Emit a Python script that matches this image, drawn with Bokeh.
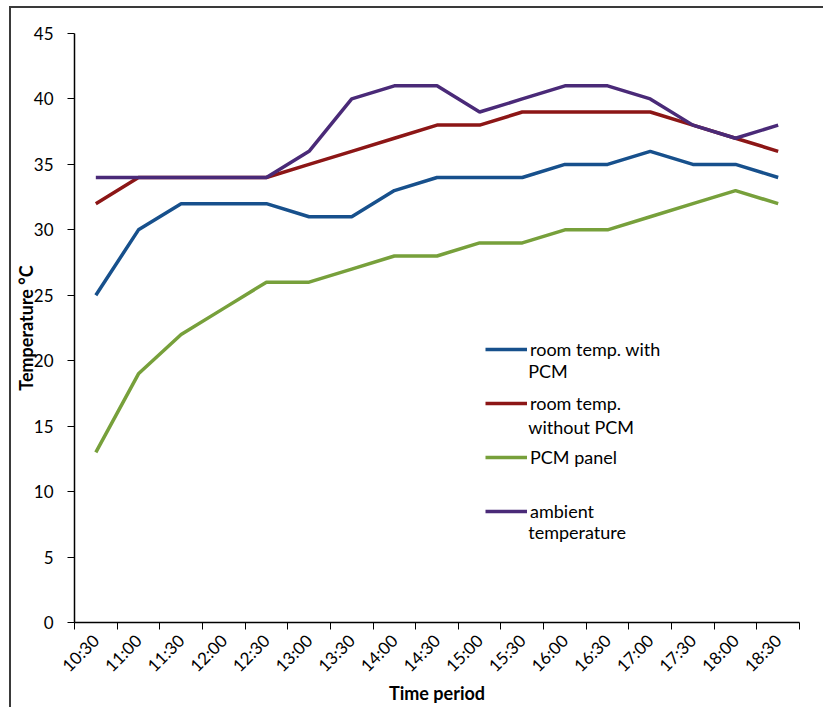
import math
from bokeh.plotting import figure
from bokeh.models import FixedTicker, Legend, LegendItem, Label
from bokeh.embed import file_html
from bokeh.resources import INLINE

# Half-hourly readings
times = ["10:30", "11:00", "11:30", "12:00", "12:30", "13:00", "13:30", "14:00", "14:30",
         "15:00", "15:30", "16:00", "16:30", "17:00", "17:30", "18:00", "18:30"]
room_with_pcm = [25, 30, 32, 32, 32, 31, 31, 33, 34, 34, 34, 35, 35, 36, 35, 35, 34]
room_without_pcm = [32, 34, 34, 34, 34, 35, 36, 37, 38, 38, 39, 39, 39, 39, 38, 37, 36]
pcm_panel = [13, 19, 22, 24, 26, 26, 27, 28, 28, 29, 29, 30, 30, 31, 32, 33, 32]
ambient = [34, 34, 34, 34, 34, 36, 40, 41, 41, 39, 40, 41, 41, 40, 38, 37, 38]

y_ticks = list(range(0, 46, 5))

FONT = "Lato"
n = len(times)
xs = [i + 0.5 for i in range(n)]  # category centres

p = figure(width=814, height=701, x_range=(0, n), y_range=(0, 45),
           output_backend="svg", toolbar_location=None,
           min_border_left=63, min_border_right=26, min_border_top=25, min_border_bottom=87)
p.styles = {"margin-left": "9px", "margin-top": "6px",
            "border-left": "2px solid #3a3a3a", "border-top": "2px solid #3a3a3a"}
p.outline_line_color = None
p.xgrid.visible = False
p.ygrid.visible = False
p.background_fill_color = "white"
p.border_fill_color = "white"

# (values, colour, first legend line, continuation line)
series = [
    (room_with_pcm, "#17508c", "room temp. with", "PCM"),
    (room_without_pcm, "#8c1616", "room temp.", "without PCM"),
    (pcm_panel, "#77a03b", "PCM panel", ""),
    (ambient, "#4a2a78", "ambient", "temperature"),
]
items = []
for vals, color, name, _ in series:
    r = p.line(xs, vals, line_color=color, line_width=3.5)
    items.append(LegendItem(label=name, renderers=[r]))

# x axis: labels at category centres, tick marks at category boundaries
xax = p.xaxis[0]
xax.ticker = FixedTicker(ticks=xs, minor_ticks=list(range(n + 1)))
xax.major_label_overrides = {x: t for x, t in zip(xs, times)}
xax.major_label_orientation = math.pi / 4
xax.major_tick_out = 0
xax.major_tick_in = 0
xax.minor_tick_out = 7
xax.minor_tick_in = 0
xax.minor_tick_line_color = "black"
xax.axis_line_color = "black"
xax.axis_line_width = 1.5
xax.major_label_text_font = FONT
xax.major_label_text_font_size = "17px"
xax.major_label_text_color = "black"
xax.major_label_standoff = 8
xax.axis_label = "Time period"
xax.axis_label_text_font = FONT
xax.axis_label_text_font_style = "bold"
xax.axis_label_text_font_size = "18px"
xax.axis_label_text_color = "black"
xax.axis_label_standoff = -4

yax = p.yaxis[0]
yax.ticker = FixedTicker(ticks=y_ticks)
yax.minor_tick_line_color = None
yax.major_tick_out = 7
yax.major_tick_in = 0
yax.axis_line_color = "black"
yax.axis_line_width = 1.5
yax.major_label_text_font = FONT
yax.major_label_text_font_size = "17px"
yax.major_label_text_color = "black"
yax.major_label_standoff = 14
yax.axis_label = "Temperature °C"
yax.axis_label_text_font = FONT
yax.axis_label_text_font_style = "bold"
yax.axis_label_text_font_size = "18px"
yax.axis_label_text_color = "black"
yax.axis_label_standoff = -6

legend = Legend(items=items, location=(411, 100), padding=0, margin=0,
                border_line_color=None, background_fill_alpha=0,
                glyph_width=42, glyph_height=22, label_height=22, label_standoff=3, spacing=32,
                label_text_font=FONT, label_text_font_size="18px", label_text_color="black")
p.add_layout(legend, "center")

# second lines of the wrapped legend entries
legend_text_x = 10.64
line_y = [19.18, 14.97, None, 6.88]
for (_, _, _, cont), ly in zip(series, line_y):
    if cont:
        p.add_layout(Label(x=legend_text_x, y=ly, text=cont, text_baseline="middle",
                           text_font=FONT, text_font_size="18px", text_color="black"))

open("out.html", "w").write(file_html(p, INLINE))
